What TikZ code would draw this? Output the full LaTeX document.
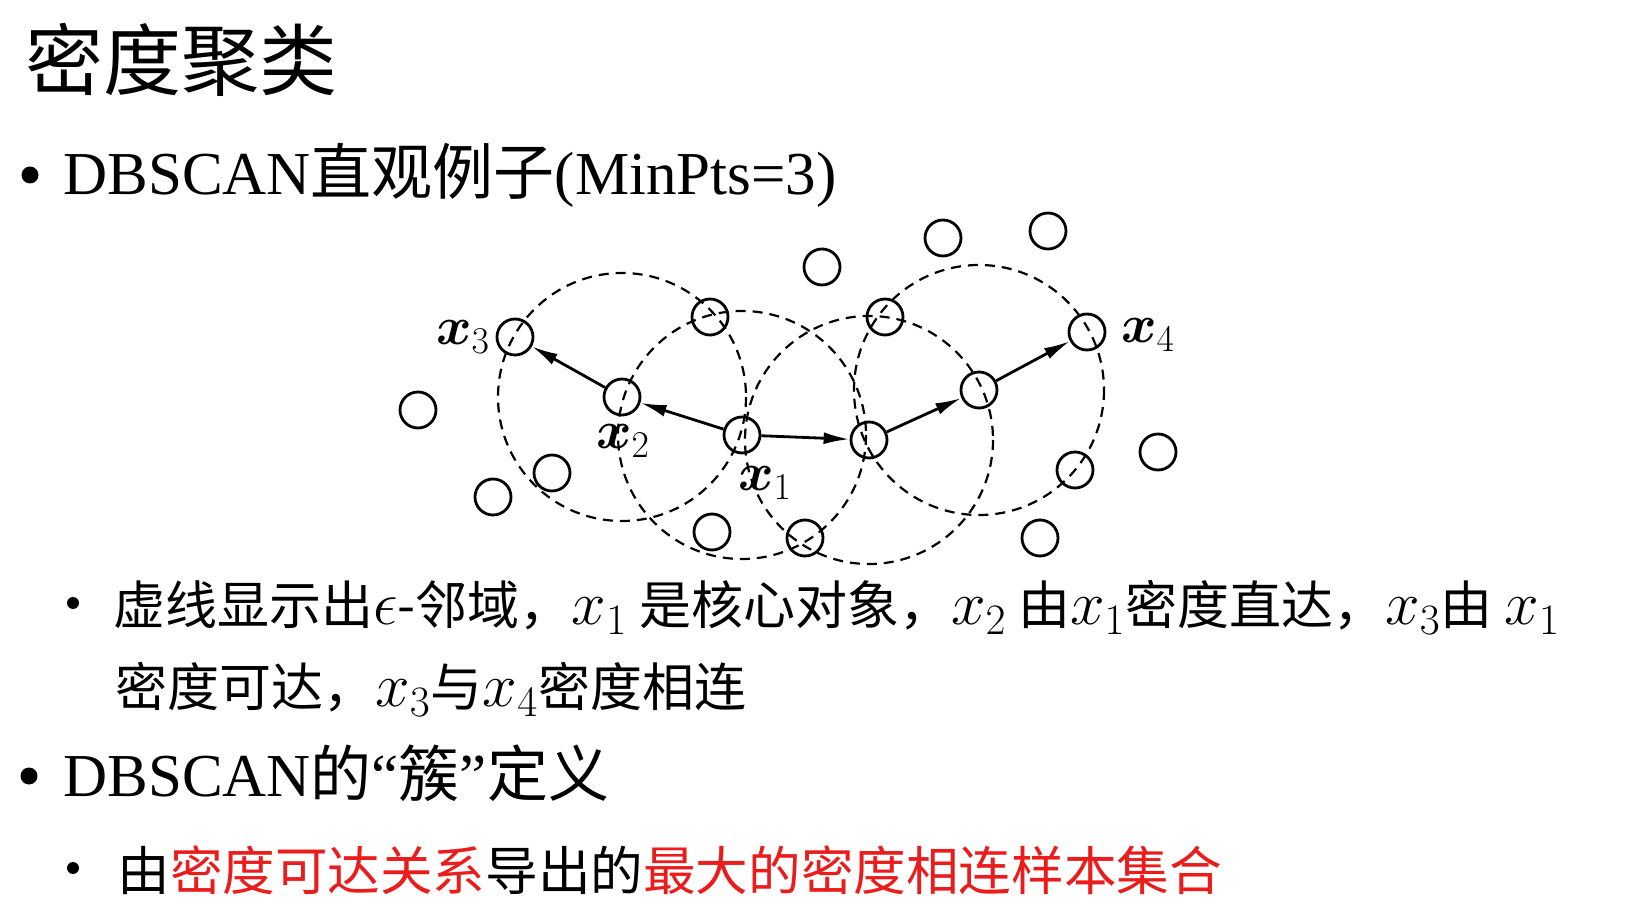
\documentclass[tikz,border=0pt]{standalone}
\usepackage{fix-cm}
\usepackage{amsmath}
\usepackage{amssymb}
\usepackage{xcolor}
\usepackage{fontspec}
\setmainfont{Liberation Serif}
\newfontfamily\cjk{Noto Sans CJK SC}
\usetikzlibrary{arrows.meta}
\definecolor{hlred}{RGB}{235,28,28}
% math in the remarks is set a little larger than the Chinese text
\newcommand{\mth}[1]{{\fontsize{31}{36}\selectfont$#1$}}

\begin{document}
\begin{tikzpicture}[x=0.5pt,y=-0.5pt,>={Latex[length=13pt,width=6pt]},
  smp/.style={circle,draw,line width=1.4pt,minimum size=18pt,inner sep=0pt},
  eps/.style={draw,line width=1.1pt,dash pattern=on 5pt off 3.5pt},
  lnk/.style={->,line width=1.4pt},
  lbl/.style={font=\fontsize{27}{32}\selectfont,inner sep=0pt},
  bul/.style={circle,fill,inner sep=0pt,minimum size=#1},
  txt/.style={anchor=base west,inner sep=0pt}]
  \useasboundingbox (0,0) rectangle (1639,924);
  % title and first bullet
  \node[txt,font=\cjk\fontsize{39}{46}\selectfont] (title) at (25,90) {密度聚类};
  \node[bul=8.5pt] (b1) at (30,175) {};
  \node[txt,font=\fontsize{30.5}{36}\selectfont] (t1) at (63,195) {DBSCAN{\cjk 直观例子}(MinPts=3)};
  % samples
  \node[smp] (x1) at (742,435) {};
  \node[smp] (x2) at (622,397) {};
  \node[smp] (x3) at (515,337) {};
  \node[smp] (x4) at (1087,332) {};
  \node[smp] (s1) at (869,440) {};
  \node[smp] (s2) at (979,390) {};
  \node[smp] (s3) at (710,317) {};
  \node[smp] (s4) at (418,410) {};
  \node[smp] (s5) at (493,497) {};
  \node[smp] (s6) at (552,473) {};
  \node[smp] (s7) at (712,532) {};
  \node[smp] (s8) at (805,538) {};
  \node[smp] (s9) at (822,267) {};
  \node[smp] (s10) at (943,238) {};
  \node[smp] (s11) at (1048,231) {};
  \node[smp] (s12) at (885,317) {};
  \node[smp] (s13) at (1158,452) {};
  \node[smp] (s14) at (1075,470) {};
  \node[smp] (s15) at (1040,538) {};
  % eps-neighbourhoods
  \draw[eps] (x2) circle[radius=124];
  \draw[eps] (x1) circle[radius=124];
  \draw[eps] (s1) circle[radius=124];
  \draw[eps] (s2) circle[radius=125];
  \draw[lnk] (x1) -- (x2);
  \draw[lnk] (x2) -- (x3);
  \draw[lnk] (x1) -- (s1);
  \draw[lnk] (s1) -- (s2);
  \draw[lnk] (s2) -- (x4);
  \node[lbl] (lx1) at (765,483) {$\boldsymbol{x}_1$};
  \node[lbl] (lx2) at (623,441) {$\boldsymbol{x}_2$};
  \node[lbl] (lx3) at (463,337) {$\boldsymbol{x}_3$};
  \node[lbl] (lx4) at (1148,335) {$\boldsymbol{x}_4$};
  % remarks
  \node[bul=6pt] (b2) at (73,603) {};
  \node[txt,font=\cjk\fontsize{26}{30}\selectfont] (t2) at (113,625)
    {虚线显示出\mth{\epsilon}-邻域，\mth{x_1} 是核心对象，\mth{x_2} 由\mth{x_1}密度直达，\mth{x_3}由 \mth{x_1}};
  \node[txt,font=\cjk\fontsize{26}{30}\selectfont] (t3) at (115,707)
    {密度可达，\mth{x_3}与\mth{x_4}密度相连};
  \node[bul=8.5pt] (b3) at (29,776) {};
  \node[txt,font=\fontsize{30.5}{36}\selectfont] (t4) at (63,797)
    {DBSCAN{\cjk 的}“{\cjk 簇}”{\cjk 定义}};
  \node[bul=6pt] (b4) at (73,868) {};
  \node[txt,font=\cjk\fontsize{26.3}{30}\selectfont] (t5) at (117,890)
    {由\textcolor{hlred}{密度可达关系}导出的\textcolor{hlred}{最大的密度相连样本集合}};
\end{tikzpicture}
\end{document}
